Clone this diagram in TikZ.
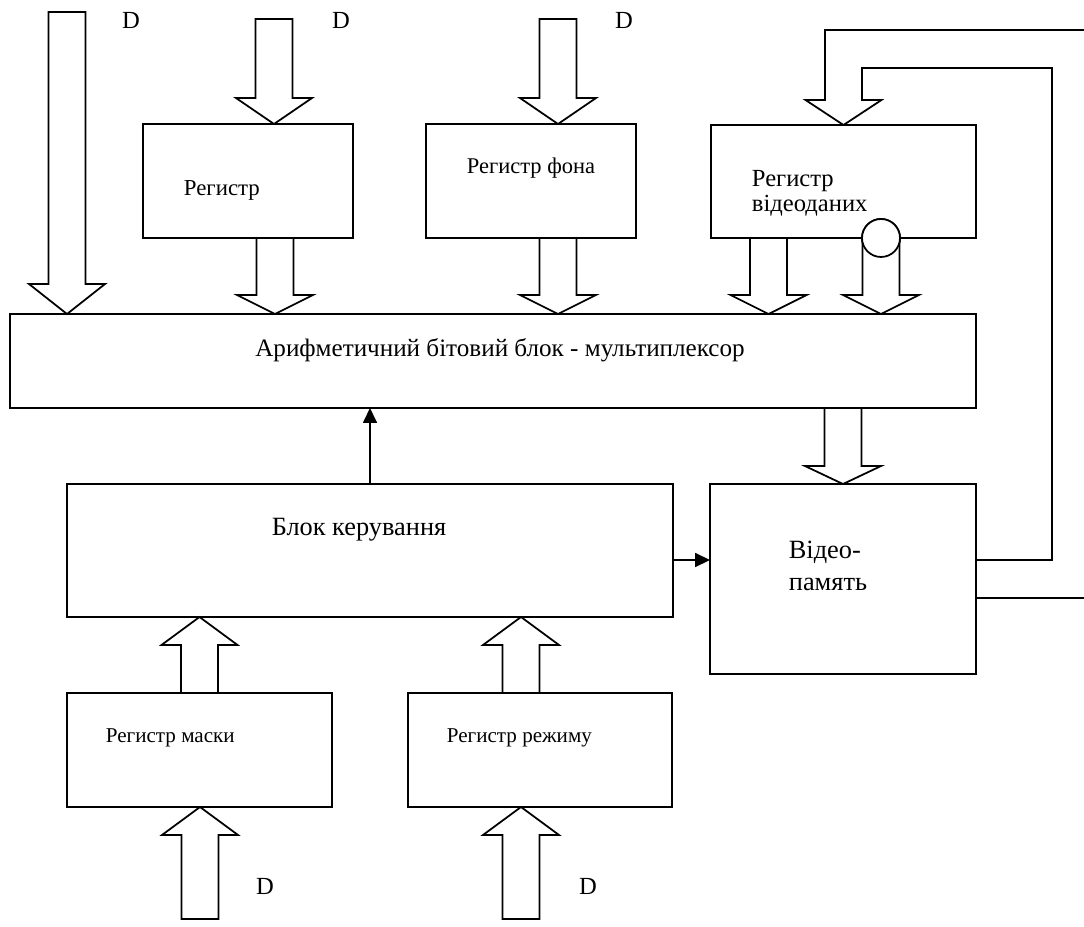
\documentclass[tikz,border=0pt]{standalone}
\usepackage{fontspec}
\setmainfont{Liberation Serif}
\usetikzlibrary{arrows.meta, calc}
\tikzset{
    schema/.style={x=0.02cm, y=-0.02cm, line width=1pt, >={Triangle[length=0.3cm, width=0.28cm]},
                   font=\fontsize{13}{14}\selectfont},
    box/.style 2 args={draw, rectangle, inner sep=0pt, outer sep=0pt, minimum width=#1, minimum height=#2},
    txt/.style={inner sep=0pt, anchor=west, align=left},
    small/.style={font=\fontsize{12}{14}\selectfont},
    large/.style={font=\fontsize{15}{18}\selectfont},
    bus/.style={draw, fill=white, line join=miter},
    ring/.style={draw, circle, fill=white, inner sep=0pt, minimum size=0.76cm},
    dlabel/.style={inner sep=0pt, font=\fontsize{14}{16}\selectfont},
    sig/.style={->},
}
% wide hollow bus arrow: #2 = start point, #3 = tip, #1 = head length
\newcommand{\busarrow}[3][0.44cm]{%
    \draw[bus] let \p1=(#2), \p2=(#3), \n1={sign(\y2-\y1)*#1} in
        (\x1-0.37cm,\y1) -- (\x1-0.37cm,\y2-\n1*1pt) -- (\x1-0.76cm,\y2-\n1*1pt) -- (\x1,\y2)
        -- (\x1+0.76cm,\y2-\n1*1pt) -- (\x1+0.37cm,\y2-\n1*1pt) -- (\x1+0.37cm,\y1) -- cycle;}

\begin{document}
\begin{tikzpicture}[schema]
    \useasboundingbox (0,0) rectangle (1084,926);

    % registers on top
    \node[box={4.2cm}{2.28cm}, label={[txt, xshift=0.8cm, yshift=-0.18cm]west:Регистр}] (reg) at (248,181) {};
    \node[box={4.2cm}{2.28cm}, label={[txt, font=\fontsize{12.8}{14}\selectfont, xshift=0.8cm, yshift=0.26cm]west:Регистр фона}] (regfon) at (531,181) {};
    \node[box={5.3cm}{2.26cm}, label={[txt, font=\fontsize{14}{14}\selectfont, xshift=0.8cm, yshift=-0.24cm]west:{Регистр\\відеоданих}}] (regvid) at (843.5,181.5) {};

    % multiplexer
    \node[box={19.32cm}{1.88cm}, label={[inner sep=0pt, font=\fontsize{14.3}{16}\selectfont, xshift=0.14cm, yshift=0.22cm]center:Арифметичний бітовий блок - мультиплексор}] (mux) at (493,361) {};

    % control and memory
    \node[box={12.12cm}{2.66cm}, label={[inner sep=0pt, large, xshift=-0.22cm, yshift=0.41cm]center:Блок керування}] (ctrl) at (370,550.5) {};
    \node[box={5.32cm}{3.8cm}, label={[txt, large, xshift=1.56cm, yshift=0.26cm]west:{Відео-\\память}}] (vmem) at (843,579) {};

    % registers at the bottom
    \node[box={5.3cm}{2.28cm}, label={[txt, small, xshift=0.76cm, yshift=0.24cm]west:Регистр маски}] (regmask) at (199.5,750) {};
    \node[box={5.28cm}{2.28cm}, label={[txt, small, xshift=0.76cm, yshift=0.24cm]west:Регистр режиму}] (regmode) at (540,750) {};

    % D inputs
    \node[dlabel] (d1) at (131,20) {D};
    \node[dlabel] (d2) at (341,20) {D};
    \node[dlabel] (d3) at (624,20) {D};
    \node[dlabel] (d4) at (265,886) {D};
    \node[dlabel] (d5) at (588,886) {D};

    \coordinate (din)    at (67,12);
    \coordinate (dreg)   at (274,19);
    \coordinate (dfon)   at (558,19);
    \coordinate (dmask)  at (200,919);
    \coordinate (dmode)  at (521,919);
    \coordinate (fbtop)  at (1084,30);
    \coordinate (fbbot)  at (1084,598);

    \coordinate (regout) at ([xshift=0.54cm]reg.south);
    \coordinate (fonout) at ([xshift=0.54cm]regfon.south);
    \coordinate (vidout) at ([xshift=-1.5cm]regvid.south);
    \node[ring] (tap) at ([xshift=0.75cm]regvid.south) {};
    \coordinate (muxout) at (vmem.north |- mux.south);
    \coordinate (maskout) at (regmask.north);
    \coordinate (modeout) at ([xshift=-0.38cm]regmode.north);

    % buses
    \busarrow[0.6cm]{din}{din |- mux.north}
    \busarrow[0.52cm]{dreg}{dreg |- reg.north}
    \busarrow[0.52cm]{dfon}{dfon |- regfon.north}
    \busarrow[0.38cm]{regout}{regout |- mux.north}
    \busarrow[0.38cm]{fonout}{fonout |- mux.north}
    \busarrow[0.38cm]{vidout}{vidout |- mux.north}
    \busarrow[0.38cm]{tap.center}{tap.center |- mux.north}
    \node[ring] at (tap) {};
    \busarrow[0.36cm]{muxout}{vmem.north}
    \busarrow[0.56cm]{maskout}{maskout |- ctrl.south}
    \busarrow[0.56cm]{modeout}{modeout |- ctrl.south}
    \busarrow[0.56cm]{dmask}{regmask.south}
    \busarrow[0.56cm]{dmode}{dmode |- regmode.south}

    % feedback from video memory
    \draw[line join=miter] (fbtop) -| ([xshift=-0.37cm]regvid.north |- 0,100) -- ([xshift=-0.76cm]regvid.north |- 0,100)
        -- (regvid.north) -- ([xshift=0.76cm]regvid.north |- 0,100) -- ([xshift=0.37cm]regvid.north |- 0,100)
        |- (1052,68) |- ([yshift=0.38cm]vmem.east);
    \draw ([yshift=-0.38cm]vmem.east) -- (fbbot);

    % control signals
    \draw[sig] (ctrl.north) -- (ctrl.north |- mux.south);
    \draw[sig] ([yshift=-0.19cm]ctrl.east) -- ([yshift=-0.19cm]ctrl.east -| vmem.west);
\end{tikzpicture}
\end{document}
